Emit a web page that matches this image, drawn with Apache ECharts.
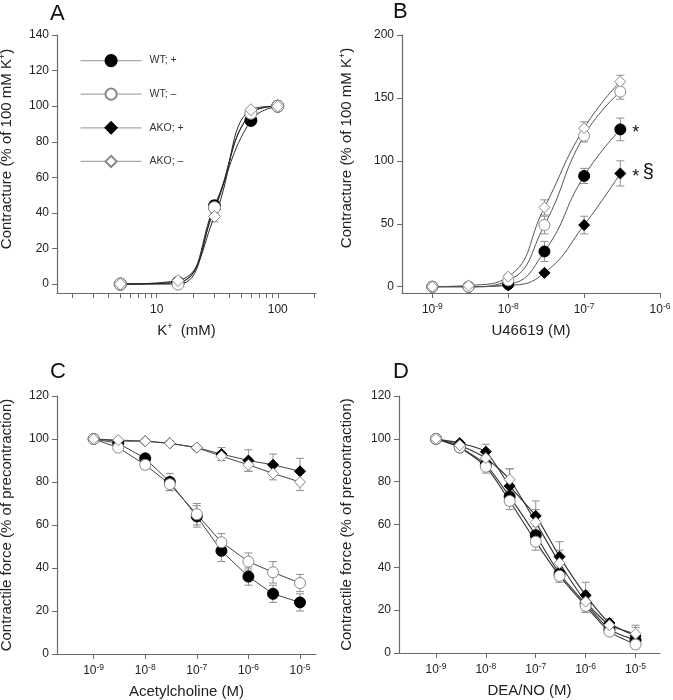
<!DOCTYPE html>
<html><head><meta charset="utf-8">
<script src="https://cdn.jsdelivr.net/npm/echarts@6/dist/echarts.min.js"></script>
<style>html,body{margin:0;padding:0;background:#fff}#c{width:673px;height:700px}</style>
</head><body><div id="c"></div>
<script>
// ---------- DATA ----------
const seriesNames = ['WT; +', 'WT; \u2013', 'AKO; +', 'AKO; \u2013'];

// Panel A: K+ (mM)
const kConc = [5, 15, 30, 60, 100];
const aWtPlus   = [0, 1, 44, 92, 100];
const aWtMinus  = [0, 0, 43, 96, 100];
const aAkoPlus  = [0, 1, 42, 96, 100];
const aAkoMinus = [0, 2, 38, 98, 100];
const aErrWtPlus   = [0.5, 0.5, 3, 2, 0.5];
const aErrWtMinus  = [0.5, 0.5, 3, 1.5, 0.5];
const aErrAkoPlus  = [0.5, 0.5, 2.5, 1.5, 0.5];
const aErrAkoMinus = [0.5, 1, 3, 1, 0.5];
const aTickValues  = [2,3,4,5,6,7,8,9,10,20,30,40,50,60,70,80,90,100,200];
const aLabelValues = [10, 100];

// Panel B: U46619 (M)
const uConc = [1e-9, 3e-9, 1e-8, 3e-8, 1e-7, 3e-7];
const bWtPlus   = [0, 0, 2, 28, 88, 125];
const bWtMinus  = [0, 0, 5, 49, 120, 155];
const bAkoPlus  = [0, 0, 1, 11, 49, 90];
const bAkoMinus = [0, 1, 8, 63, 126, 163];
const bErrWtPlus   = [1, 1, 1, 8, 6, 9];
const bErrWtMinus  = [1, 1, 2, 7, 5, 6];
const bErrAkoPlus  = [1, 1, 1, 2, 7, 10];
const bErrAkoMinus = [1, 1, 2, 6, 5, 5];
const bTickValues = [1e-9, 1e-8, 1e-7, 1e-6];

// Panel C: Acetylcholine (M)
const achConc = [1e-9, 3e-9, 1e-8, 3e-8, 1e-7, 3e-7, 1e-6, 3e-6, 1e-5];
const cWtPlus   = [100, 98, 91, 80, 64, 48, 36, 28, 24];
const cWtMinus  = [100, 96, 88, 79, 65, 52, 43, 38, 33];
const cAkoPlus  = [100, 99, 99, 98, 96, 93, 90, 88, 85];
const cAkoMinus = [100, 99.5, 99, 98, 96, 92, 88, 84, 80];
const cErrWtPlus   = [0, 1, 2, 4, 5, 5, 4, 4, 4];
const cErrWtMinus  = [0, 1, 2, 3, 5, 4, 4, 5, 4];
const cErrAkoPlus  = [0, 1, 1, 1, 1, 3, 5, 5, 6];
const cErrAkoMinus = [0, 1, 1, 1, 1, 2, 3, 3, 4];

// Panel D: DEA/NO (M)
const deaConc = [1e-9, 3e-9, 1e-8, 3e-8, 1e-7, 3e-7, 1e-6, 3e-6, 1e-5];
const dWtPlus   = [100, 96, 88, 73, 55, 37, 23, 11, 6];
const dWtMinus  = [100, 96, 87, 71, 52, 36, 22, 10, 4];
const dAkoPlus  = [100, 98, 94, 78, 64, 45, 27, 14, 8];
const dAkoMinus = [100, 97, 91, 81, 61, 42, 24, 13, 9];
const dErrWtPlus   = [0, 1, 2, 4, 4, 3, 3, 2, 2];
const dErrWtMinus  = [0, 1, 3, 4, 4, 3, 3, 2, 2];
const dErrAkoPlus  = [0, 1, 3.5, 8, 7, 7, 6, 2, 4];
const dErrAkoMinus = [0, 1, 2, 5, 6, 6, 5, 2, 4];
const cdTickValues = [1e-9, 1e-8, 1e-7, 1e-6, 1e-5];

// ---------- CHART ----------
const FONT = "'Liberation Sans', Arial, Helvetica, sans-serif";
const TXT = '#222';
const AX = '#6a6a6a';
const chart = echarts.init(document.getElementById('c'), null, {width: 673, height: 700});

const STY = [
  {symbol: 'circle',  fill: '#000', border: '#000'},
  {symbol: 'circle',  fill: '#fff', border: '#8a8a8a'},
  {symbol: 'diamond', fill: '#000', border: '#000'},
  {symbol: 'diamond', fill: '#fff', border: '#8a8a8a'}
];

const supRich = {sup: {fontSize: 9, lineHeight: 9, verticalAlign: 'top', fontFamily: FONT, color: TXT}};
const expRich = {s: {fontSize: 8.5, lineHeight: 9, verticalAlign: 'top', fontFamily: FONT, color: TXT}};
const expFmt = v => '10{s|' + Math.round(Math.log10(v)) + '}';

function xAxisLog(gi, min, max, ticks, labels, name, fmt, rich) {
  return {
    type: 'log', logBase: 10, gridIndex: gi, min: min, max: max,
    name: name, nameLocation: 'middle', nameGap: 29,
    nameTextStyle: {fontSize: 15, color: TXT, fontFamily: FONT, lineHeight: 17, rich: supRich},
    axisLine: {onZero: false, lineStyle: {color: AX, width: 1.2}},
    axisTick: {customValues: ticks, length: 5, lineStyle: {color: AX}},
    axisLabel: {customValues: labels, formatter: fmt, fontSize: 12, color: TXT, fontFamily: FONT,
                margin: 9, lineHeight: 15, rich: rich || {}},
    splitLine: {show: false}, minorTick: {show: false}
  };
}
function yAxisVal(gi, min, max, labels, name, gap, shiftPad) {
  return {
    type: 'value', gridIndex: gi, min: min, max: max,
    name: name, nameLocation: 'middle', nameGap: gap,
    nameTextStyle: {fontSize: 15, color: TXT, fontFamily: FONT, lineHeight: 17,
                    padding: [0, 0, 0, shiftPad], rich: supRich},
    axisLine: {onZero: false, lineStyle: {color: AX, width: 1.2}},
    axisTick: {customValues: labels, length: 5, lineStyle: {color: AX}},
    axisLabel: {customValues: labels, fontSize: 12, color: TXT, fontFamily: FONT, margin: 8},
    splitLine: {show: false}
  };
}

const series = [];
function addPanel(gi, xs, ysList, errList, opt) {
  const order = [0, 2, 1, 3];
  order.forEach(k => {
    const ys = ysList[k], es = errList[k], st = STY[k];
    series.push({
      type: 'custom', xAxisIndex: gi, yAxisIndex: gi, z: 1, silent: true,
      data: xs.map((x, i) => [x, ys[i], es[i]]),
      encode: {x: 0, y: 1},
      renderItem: (params, api) => {
        const x = api.value(0), y = api.value(1), e = api.value(2);
        if (!e) return null;
        const t = api.coord([x, y + e]), b = api.coord([x, y - e]);
        const w = 4, s = {stroke: '#8f8f8f', lineWidth: 1};
        return {type: 'group', children: [
          {type: 'line', shape: {x1: t[0], y1: t[1], x2: b[0], y2: b[1]}, style: s},
          {type: 'line', shape: {x1: t[0] - w, y1: t[1], x2: t[0] + w, y2: t[1]}, style: s},
          {type: 'line', shape: {x1: b[0] - w, y1: b[1], x2: b[0] + w, y2: b[1]}, style: s}
        ]};
      }
    });
    const data = xs.map((x, i) => [x, ys[i]]);
    if (opt.labels && opt.labels[k]) {
      const last = data.length - 1;
      data[last] = {value: data[last], label: opt.labels[k]};
    }
    series.push({
      type: 'line', name: seriesNames[k], xAxisIndex: gi, yAxisIndex: gi, z: 3,
      data: data, smooth: opt.smooth || false,
      symbol: st.symbol, symbolSize: st.symbol === 'circle' ? opt.cs : opt.ds,
      itemStyle: {color: st.fill, borderColor: st.border, borderWidth: 1},
      lineStyle: {color: opt.lc, width: opt.lw},
      emphasis: {disabled: true}, silent: true
    });
  });
}

addPanel(0, kConc, [aWtPlus, aWtMinus, aAkoPlus, aAkoMinus],
  [aErrWtPlus, aErrWtMinus, aErrAkoPlus, aErrAkoMinus],
  {smooth: 0.45, cs: 12, ds: 12, lc: '#2a2a2a', lw: 1});

const starLabel = {show: true, position: 'right', distance: 6, offset: [0, 4],
  formatter: '{a|*}', rich: {a: {fontSize: 18, color: '#111', fontFamily: FONT}}};
const starSecLabel = {show: true, position: 'right', distance: 6, offset: [0, 4], fontSize: 12,
  formatter: '{a|*} {b|\u00a7}', rich: {a: {fontSize: 18, color: '#111', fontFamily: FONT},
  b: {fontSize: 20, color: '#111', fontFamily: FONT, padding: [0, 0, 9, 0]}}};
addPanel(1, uConc, [bWtPlus, bWtMinus, bAkoPlus, bAkoMinus],
  [bErrWtPlus, bErrWtMinus, bErrAkoPlus, bErrAkoMinus],
  {smooth: 0.5, cs: 11, ds: 11, lc: '#555', lw: 1, labels: [starLabel, null, starSecLabel, null]});
addPanel(2, achConc, [cWtPlus, cWtMinus, cAkoPlus, cAkoMinus],
  [cErrWtPlus, cErrWtMinus, cErrAkoPlus, cErrAkoMinus],
  {smooth: false, cs: 11, ds: 11, lc: '#444', lw: 1});
addPanel(3, deaConc, [dWtPlus, dWtMinus, dAkoPlus, dAkoMinus],
  [dErrWtPlus, dErrWtMinus, dErrAkoPlus, dErrAkoMinus],
  {smooth: 0.2, cs: 11, ds: 11, lc: '#333', lw: 1.1});

const letter = (t, l, tp) => ({text: t, left: l, top: tp, padding: 0,
  textStyle: {fontSize: 22, fontWeight: 'normal', color: '#111', fontFamily: FONT}});

chart.setOption({
  animation: false,
  backgroundColor: '#fff',
  textStyle: {fontFamily: FONT},
  title: [letter('A', 50, 3), letter('B', 393, 1), letter('C', 50, 361), letter('D', 393, 361)],
  legend: {
    data: seriesNames, orient: 'vertical', left: 80, top: 54, padding: 0,
    itemWidth: 61, itemHeight: 14, itemGap: 20.4,
    lineStyle: {color: '#a8a8a8', width: 1.2},
    textStyle: {fontSize: 10.5, color: '#333', fontFamily: FONT, padding: [0, 0, 0, 3]},
    selectedMode: false
  },
  grid: [
    {left: 57, top: 35, width: 259, height: 258, outerBoundsMode: 'none'},
    {left: 402, top: 35, width: 258, height: 258, outerBoundsMode: 'none'},
    {left: 57, top: 396, width: 259, height: 258, outerBoundsMode: 'none'},
    {left: 399, top: 396, width: 261, height: 257, outerBoundsMode: 'none'}
  ],
  xAxis: [
    xAxisLog(0, 1.5, 207, aTickValues, aLabelValues, 'K{sup|+}  (mM)', v => String(Math.round(v))),
    xAxisLog(1, Math.pow(10, -9.4), 1e-6, bTickValues, bTickValues, 'U46619 (M)', expFmt, expRich),
    xAxisLog(2, Math.pow(10, -9.71), Math.pow(10, -4.69), cdTickValues, cdTickValues, 'Acetylcholine (M)', expFmt, expRich),
    xAxisLog(3, Math.pow(10, -9.74), Math.pow(10, -4.51), cdTickValues, cdTickValues, 'DEA/NO (M)', expFmt, expRich)
  ],
  yAxis: [
    yAxisVal(0, -5, 140, [0, 20, 40, 60, 80, 100, 120, 140], 'Contracture (% of 100 mM K{sup|+})', 42, 30),
    yAxisVal(1, -5, 200, [0, 50, 100, 150, 200], 'Contracture (% of 100 mM K{sup|+})', 47, 32),
    yAxisVal(2, 0, 120, [0, 20, 40, 60, 80, 100, 120], 'Contractile force (% of precontraction)', 42, 0),
    yAxisVal(3, 0, 120, [0, 20, 40, 60, 80, 100, 120], 'Contractile force (% of precontraction)', 44, 0)
  ],
  series: series
});
</script></body></html>
